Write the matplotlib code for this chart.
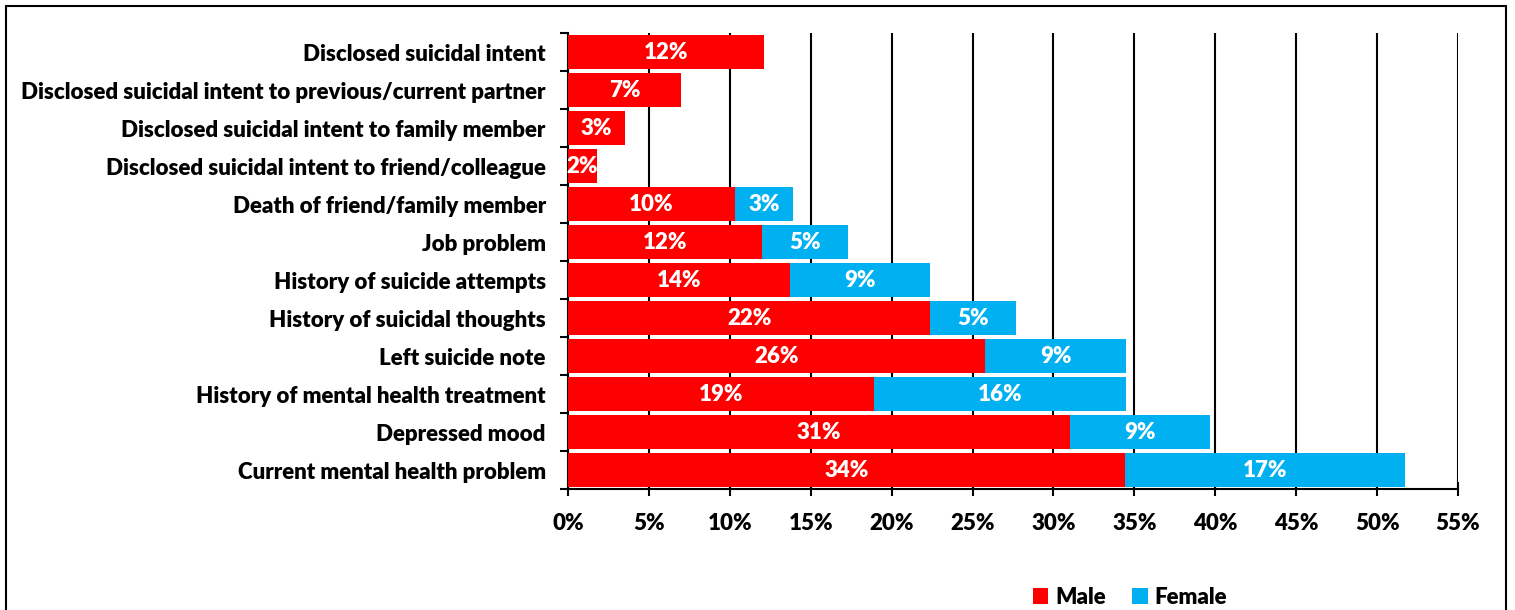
import matplotlib.pyplot as plt
import numpy as np
from matplotlib.patches import Rectangle

plt.rcParams['font.family'] = ['Lato', 'DejaVu Sans']
plt.rcParams['font.weight'] = 'heavy'

categories = ['Disclosed suicidal intent',
              'Disclosed suicidal intent to previous/current partner',
              'Disclosed suicidal intent to family member',
              'Disclosed suicidal intent to friend/colleague',
              'Death of friend/family member',
              'Job problem',
              'History of suicide attempts',
              'History of suicidal thoughts',
              'Left suicide note',
              'History of mental health treatment',
              'Depressed mood',
              'Current mental health problem']
male = [12.1, 7.0, 3.5, 1.8, 10.3, 12.0, 13.7, 22.4, 25.8, 18.9, 31.0, 34.4]
female = [0, 0, 0, 0, 3.6, 5.3, 8.7, 5.3, 8.7, 15.6, 8.7, 17.3]
male_labels = ['12%', '7%', '3%', '2%', '10%', '12%', '14%', '22%', '26%', '19%', '31%', '34%']
female_labels = ['', '', '', '', '3%', '5%', '9%', '5%', '9%', '16%', '9%', '17%']

red = '#FF0000'
blue = '#00B0F0'
fs = 16

fig = plt.figure(figsize=(15.15, 6.1), dpi=100)
ax = fig.add_axes([568/1515, 1-489/610, (1458-568)/1515, (489-33)/610])

y = np.arange(len(categories))
b1 = ax.barh(y, male, height=0.9, color=red, label='Male', zorder=3)
b2 = ax.barh(y, female, height=0.9, left=male, color=blue, label='Female', zorder=3)

for i in range(len(categories)):
    ax.text(male[i] / 2, y[i], male_labels[i], ha='center', va='center',
            color='white', fontsize=fs, fontweight='heavy', zorder=4)
    if female[i] > 0:
        ax.text(male[i] + female[i] / 2, y[i], female_labels[i], ha='center', va='center',
                color='white', fontsize=fs, fontweight='heavy', zorder=4)

ax.set_ylim(len(categories) - 0.5, -0.5)
ax.set_xlim(0, 55)
ax.set_xticks(np.arange(0, 56, 5))
ax.set_xticklabels([f'{v}%' for v in range(0, 56, 5)], fontsize=fs, fontweight='heavy')
ax.set_yticks(y)
ax.set_yticklabels(categories, fontsize=fs, fontweight='heavy')
ax.set_yticks(np.arange(-0.5, len(categories), 1), minor=True)
ax.tick_params(axis='y', which='major', length=0, pad=16)
ax.tick_params(axis='y', which='minor', length=6, width=1.5, direction='out')
ax.tick_params(axis='x', which='major', length=10, width=1.5, direction='inout', pad=12)

ax.grid(axis='x', color='black', linewidth=1.5, zorder=0)
for s in ['top', 'right']:
    ax.spines[s].set_visible(False)
ax.spines['left'].set_linewidth(1.5)
ax.spines['bottom'].set_linewidth(1.5)

fig.legend(handles=[b1, b2], loc='center', bbox_to_anchor=(1130/1515, 1-597/610),
           ncol=2, frameon=False, fontsize=fs, handlelength=0.7, handleheight=0.7,
           handletextpad=0.3, columnspacing=1.2)

fig.patches.append(Rectangle((6/1515, -0.05), 1500/1515, 1.05 - 6/610, transform=fig.transFigure,
                             fill=False, edgecolor='black', linewidth=1.5))

fig.savefig('out.png', dpi=100)
